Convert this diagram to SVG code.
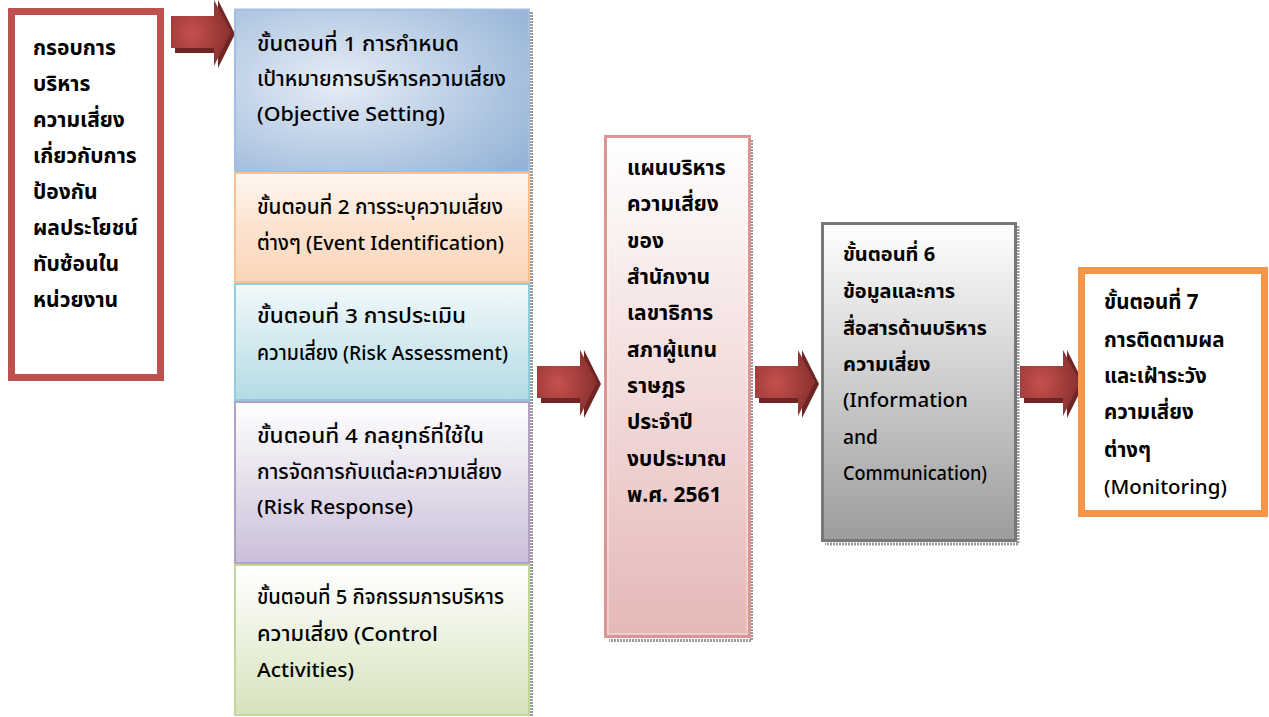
<svg xmlns="http://www.w3.org/2000/svg" width="1269" height="717" viewBox="0 0 1269 717">
<style>
text{font-family:"Noto Sans Thai","Noto Sans","DejaVu Sans","Liberation Sans",sans-serif;font-size:20.5px;font-weight:500;fill:#000}
.b{font-weight:bold;font-size:21px}
.b6{font-weight:bold;font-size:20px}
.b7{font-weight:bold;font-size:20.5px}
.shadow{fill:none;stroke:#9a9a9a;stroke-width:3;stroke-dasharray:2 1}
</style>
<defs>
<radialGradient id="g1" cx="0.35" cy="0.45" r="0.8">
<stop offset="0" stop-color="#e6edf6"/><stop offset="1" stop-color="#95b3d7"/></radialGradient>
<linearGradient id="g2" x1="0" y1="0" x2="0" y2="1"><stop offset="0" stop-color="#fef6f0"/><stop offset="0.5" stop-color="#fce3d0"/><stop offset="1" stop-color="#fad5b8"/></linearGradient>
<linearGradient id="g3" x1="0" y1="0" x2="0" y2="1"><stop offset="0" stop-color="#f2f9fb"/><stop offset="1" stop-color="#b3dbe5"/></linearGradient>
<linearGradient id="g4" x1="0" y1="0" x2="0" y2="1"><stop offset="0" stop-color="#ffffff"/><stop offset="1" stop-color="#cbbfd9"/></linearGradient>
<linearGradient id="g5" x1="0" y1="0" x2="0" y2="1"><stop offset="0" stop-color="#ffffff"/><stop offset="1" stop-color="#d6e3bd"/></linearGradient>
<linearGradient id="gp" x1="0" y1="0" x2="0" y2="1"><stop offset="0" stop-color="#ffffff"/><stop offset="1" stop-color="#e5b8b7"/></linearGradient>
<linearGradient id="gg" x1="0" y1="0" x2="0" y2="1"><stop offset="0" stop-color="#ffffff"/><stop offset="1" stop-color="#9c9c9c"/></linearGradient>
<radialGradient id="ga" cx="0.35" cy="0.5" r="0.6">
<stop offset="0" stop-color="#c8504d"/><stop offset="1" stop-color="#8c3331"/></radialGradient>
<g id="arrow">
<polygon points="4,8 47,8 47,37 4,37" fill="#6e2523"/>
<polygon points="47,-16 64,18 47,52" fill="#6e2523"/>
<polygon points="0,0 43,0 43,-16 60,16 43,50 43,32 0,32" fill="url(#ga)"/>
</g>
</defs>

<g id="connectors">
<use href="#arrow" x="171" y="16"/>
<use href="#arrow" x="537" y="366"/>
<use href="#arrow" x="755" y="366"/>
<use href="#arrow" x="1020" y="366"/>
</g>

<g id="frame">
<rect x="11.5" y="11.5" width="149" height="366" fill="#fff" stroke="#c0504d" stroke-width="7"/>
<text class="b" x="33" y="55">กรอบการ</text>
<text class="b" x="33" y="91">บริหาร</text>
<text class="b" x="33" y="127">ความเสี่ยง</text>
<text class="b" x="33" y="163">เกี่ยวกับการ</text>
<text class="b" x="33" y="199">ป้องกัน</text>
<text class="b" x="33" y="235">ผลประโยชน์</text>
<text class="b" x="33" y="271">ทับซ้อนใน</text>
<text class="b" x="33" y="307">หน่วยงาน</text>
</g>

<line class="shadow" x1="531.5" y1="12" x2="531.5" y2="716"/>

<g id="step1">
<rect x="235" y="9.5" width="294" height="162" fill="url(#g1)" stroke="#a3bfe0" stroke-width="2"/>
<text x="257" y="51" textLength="202" lengthAdjust="spacingAndGlyphs">ขั้นตอนที่ 1 การกำหนด</text>
<text x="257" y="86" textLength="249" lengthAdjust="spacingAndGlyphs">เป้าหมายการบริหารความเสี่ยง</text>
<text x="257" y="121" textLength="188" lengthAdjust="spacingAndGlyphs">(Objective Setting)</text>
</g>
<g id="step2">
<rect x="235" y="173" width="294" height="109" fill="url(#g2)" stroke="#fac090" stroke-width="2"/>
<text x="257" y="214" textLength="246" lengthAdjust="spacingAndGlyphs">ขั้นตอนที่ 2 การระบุความเสี่ยง</text>
<text x="257" y="250" textLength="247" lengthAdjust="spacingAndGlyphs">ต่างๆ (Event Identification)</text>
</g>
<g id="step3">
<rect x="235" y="284" width="294" height="116" fill="url(#g3)" stroke="#93cddd" stroke-width="2"/>
<text x="257" y="323" textLength="209" lengthAdjust="spacingAndGlyphs">ขั้นตอนที่ 3 การประเมิน</text>
<text x="257" y="360" textLength="251" lengthAdjust="spacingAndGlyphs">ความเสี่ยง (Risk Assessment)</text>
</g>
<g id="step4">
<rect x="235" y="402" width="294" height="161" fill="url(#g4)" stroke="#b3a2c7" stroke-width="2"/>
<text x="257" y="443" textLength="227" lengthAdjust="spacingAndGlyphs">ขั้นตอนที่ 4 กลยุทธ์ที่ใช้ใน</text>
<text x="257" y="479" textLength="245" lengthAdjust="spacingAndGlyphs">การจัดการกับแต่ละความเสี่ยง</text>
<text x="257" y="514" textLength="156" lengthAdjust="spacingAndGlyphs">(Risk Response)</text>
</g>
<g id="step5">
<rect x="235" y="565" width="294" height="150" fill="url(#g5)" stroke="#c3d69b" stroke-width="2"/>
<text x="257" y="604" textLength="247" lengthAdjust="spacingAndGlyphs">ขั้นตอนที่ 5 กิจกรรมการบริหาร</text>
<text x="257" y="641" textLength="181" lengthAdjust="spacingAndGlyphs">ความเสี่ยง (Control</text>
<text x="257" y="677" textLength="97" lengthAdjust="spacingAndGlyphs">Activities)</text>
</g>

<g id="plan">
<path class="shadow" d="M751.5,140 V640.5 H609"/>
<rect x="605.5" y="136.5" width="144" height="500" fill="url(#gp)" stroke="#d99694" stroke-width="3"/>
<rect x="608" y="139" width="139" height="495" fill="none" stroke="#ffffff" stroke-width="1" opacity="0.6"/>
<text class="b" x="627" y="175">แผนบริหาร</text>
<text class="b" x="627" y="211">ความเสี่ยง</text>
<text class="b" x="627" y="248">ของ</text>
<text class="b" x="627" y="284">สำนักงาน</text>
<text class="b" x="627" y="320">เลขาธิการ</text>
<text class="b" x="627" y="357">สภาผู้แทน</text>
<text class="b" x="627" y="393">ราษฎร</text>
<text class="b" x="627" y="429">ประจำปี</text>
<text class="b" x="627" y="466">งบประมาณ</text>
<text class="b" x="627" y="502">พ.ศ. 2561</text>
</g>

<g id="step6">
<path class="shadow" d="M1018,226 V544 H825"/>
<rect x="822.5" y="223.5" width="193" height="317" fill="url(#gg)" stroke="#777777" stroke-width="3"/>
<text class="b6" x="843" y="261">ขั้นตอนที่ 6</text>
<text class="b6" x="843" y="298">ข้อมูลและการ</text>
<text class="b6" x="843" y="335">สื่อสารด้านบริหาร</text>
<text class="b6" x="843" y="371">ความเสี่ยง</text>
<text x="843" y="407" font-size="21px" textLength="125" lengthAdjust="spacingAndGlyphs">(Information</text>
<text x="843" y="444" font-size="21px" textLength="35" lengthAdjust="spacingAndGlyphs">and</text>
<text x="843" y="480" font-size="21px" textLength="144" lengthAdjust="spacingAndGlyphs">Communication)</text>
</g>

<g id="step7">
<rect x="1081.5" y="270.5" width="183" height="243" fill="#fff" stroke="#f79646" stroke-width="7"/>
<text class="b7" x="1104" y="309">ขั้นตอนที่ 7</text>
<text class="b7" x="1104" y="347">การติดตามผล</text>
<text class="b7" x="1104" y="383">และเฝ้าระวัง</text>
<text class="b7" x="1104" y="419">ความเสี่ยง</text>
<text class="b7" x="1104" y="457">ต่างๆ</text>
<text x="1104" y="494" font-size="20.5px">(Monitoring)</text>
</g>
</svg>
